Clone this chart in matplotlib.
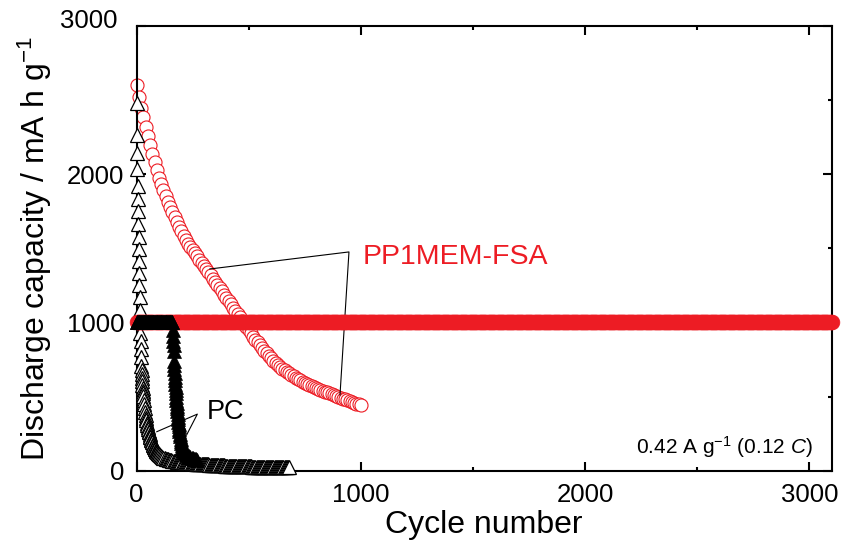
import numpy as np
import matplotlib

matplotlib.use("Agg")
import matplotlib.pyplot as plt
from matplotlib.ticker import MultipleLocator, FuncFormatter

plt.rcParams["font.family"] = ["Liberation Sans", "DejaVu Sans"]
plt.rcParams["mathtext.fontset"] = "custom"
plt.rcParams["mathtext.rm"] = "Liberation Sans"
plt.rcParams["mathtext.it"] = "Liberation Sans:italic"

RED = "#ED1C24"

# PP1MEM-FSA, full discharge (open circles)
fsa_cycles = [1] + list(range(10, 1001, 10))
fsa_capacity = [
    2600, 2520, 2450, 2385, 2320, 2260, 2200, 2140, 2085, 2030, 1975,
    1935, 1895, 1855, 1815, 1780, 1745, 1710, 1675, 1645, 1615,
    1585, 1558, 1532, 1510, 1489, 1467, 1446, 1424, 1403, 1382,
    1360, 1339, 1317, 1296, 1274, 1253, 1231, 1210, 1188, 1166,
    1144, 1122, 1100, 1078, 1056, 1034, 1012, 990, 968, 947,
    926, 905, 885, 865, 846, 827, 809, 791, 774, 758,
    743, 728, 714, 701, 689, 677, 666, 656, 646, 636,
    627, 618, 609, 601, 593, 585, 578, 571, 564, 558,
    552, 546, 540, 534, 528, 522, 516, 510, 504, 498,
    492, 487, 481, 475, 470, 464, 459, 453, 448, 442,
]

# capacity-limited cycling (filled markers sit on the cut-off)
capacity_limit = 1000
fsa_limited_last = 3100
pc_limited_last = 160

# PC, full discharge (open triangles)
pc_open_cycles = (list(range(1, 31)) + list(range(32, 101, 2))
                  + list(range(105, 681, 5)))
pc_open_capacity = [
    # cycles 1-30
    2480, 2264, 2142, 2034, 1919, 1831, 1750, 1662, 1574, 1493,
    1412, 1331, 1250, 1169, 1081, 1005, 932, 878, 824, 764,
    709, 680, 652, 626, 602, 580, 560, 541, 523, 506,
    # cycles 32-100
    475, 447, 421, 398, 377, 358, 340, 324, 309, 295,
    282, 270, 258, 247, 236, 226, 217, 208, 199, 191,
    183, 176, 169, 162, 156, 150, 145, 140, 135, 130,
    126, 122, 118, 114, 110,
    # cycles 105-680
    104, 98, 93, 89, 85, 82, 79, 76, 74, 72,
    70, 68, 66, 65, 63, 62, 61, 60, 59, 58,
    57, 56, 55, 55, 54, 53, 52, 52, 51, 50,
    49, 49, 48, 48, 47, 46, 45, 45, 44, 44,
    43, 43, 42, 42, 41, 41, 40, 40, 39, 39,
    38, 38, 37, 37, 37, 36, 36, 36, 35, 35,
    35, 34, 34, 34, 33, 33, 33, 32, 32, 32,
    32, 31, 31, 31, 30, 30, 30, 30, 29, 29,
    29, 29, 28, 28, 28, 28, 27, 27, 27, 27,
    27, 26, 26, 26, 26, 26, 25, 25, 25, 25,
    25, 25, 24, 24, 24, 24, 24, 24, 23, 23,
    23, 23, 23, 23, 23, 23,
]

# PC, after the capacity-limited stage (filled triangles)
pc_drop_cycles = (list(range(162, 191)) + list(range(192, 211, 2))
                  + [213, 216, 219, 222, 225, 230, 235, 240, 245, 250,
                     255, 260, 265, 270])
pc_drop_capacity = [
    946, 912, 878, 845, 811, 740, 712, 686, 660, 635,
    611, 588, 565, 543, 521, 500, 479, 459, 439, 420,
    401, 383, 365, 348, 331, 315, 299, 284, 270,
    250, 232, 215, 200, 186, 174, 163, 153, 145, 138,
    130, 123, 117, 112, 107, 101, 96, 92, 88, 85,
    82, 79, 77, 75,
]

fig = plt.figure(figsize=(8.41, 5.40), dpi=100)
ax = fig.add_axes([0.1624, 0.1283, 0.8267, 0.8235])

ax.plot(fsa_cycles, fsa_capacity, ls="none", marker="o", ms=9.4,
        mfc="white", mec=RED, mew=0.8, zorder=2, clip_on=False)
ax.plot(pc_open_cycles, pc_open_capacity, ls="none", marker="^", ms=10.2,
        mfc="white", mec="black", mew=0.9, zorder=3, clip_on=False)

# pointer lines for the labels
ax.plot([327, 947, 907], [1361, 1476, 511], color="black", lw=0.8, zorder=3.5)
ax.plot([90, 271, 223], [263, 382, 241], color="black", lw=0.8, zorder=3.5)

fsa_lim_cycles = np.r_[1, np.arange(5, fsa_limited_last + 1, 5)]
ax.plot(fsa_lim_cycles, np.full(len(fsa_lim_cycles), capacity_limit),
        ls="none", marker="o", ms=10.6, mfc=RED, mec=RED, mew=0.5,
        zorder=4, clip_on=False)

pc_lim_cycles = np.arange(1, pc_limited_last + 1, 2)
ax.plot(pc_lim_cycles, np.full(len(pc_lim_cycles), capacity_limit),
        ls="none", marker="^", ms=9.5, mfc="black", mec="black", mew=0.5,
        zorder=5, clip_on=False)
ax.plot(pc_drop_cycles, pc_drop_capacity, ls="none", marker="^", ms=9.5,
        mfc="black", mec="black", mew=0.5, zorder=5, clip_on=False)

ax.text(1008, 1395, "PP1MEM-FSA", color=RED, fontsize=20.5, va="baseline")
ax.text(312, 347, "PC", color="black", fontsize=19.5, va="baseline")
ax.text(3015, 113, r"0.42 A g$^{-1}$ (0.12 $C$)", fontsize=15,
        ha="right", va="baseline")

ax.set_xlim(0, 3100)
ax.set_ylim(0, 3000)
ax.xaxis.set_major_locator(MultipleLocator(1000))
ax.xaxis.set_minor_locator(MultipleLocator(500))
ax.yaxis.set_major_locator(MultipleLocator(1000))
ax.yaxis.set_minor_locator(MultipleLocator(500))
# the top y label is set by hand, a little off the frame corner
ax.yaxis.set_major_formatter(FuncFormatter(lambda v, pos: "" if v >= 3000 else f"{v:.0f}"))
ax.tick_params(which="both", direction="in", top=True, right=True,
               labelsize=18.5, width=1.5)
ax.tick_params(which="major", length=6.5)
ax.tick_params(which="minor", length=3)
ax.tick_params(axis="x", pad=9)
ax.tick_params(axis="y", pad=9)
for spine in ax.spines.values():
    spine.set_linewidth(1.5)
ax.annotate("3000", xy=(0, 3000), xycoords="data", xytext=(-14, 3.5),
            textcoords="offset points", ha="right", va="center",
            fontsize=18.5, annotation_clip=False)

ax.set_xlabel("Cycle number", fontsize=23, labelpad=2)
ax.set_ylabel(r"Discharge capacity / mA h g$^{-1}$", fontsize=23, labelpad=9)

fig.savefig("out.png", dpi=100)
